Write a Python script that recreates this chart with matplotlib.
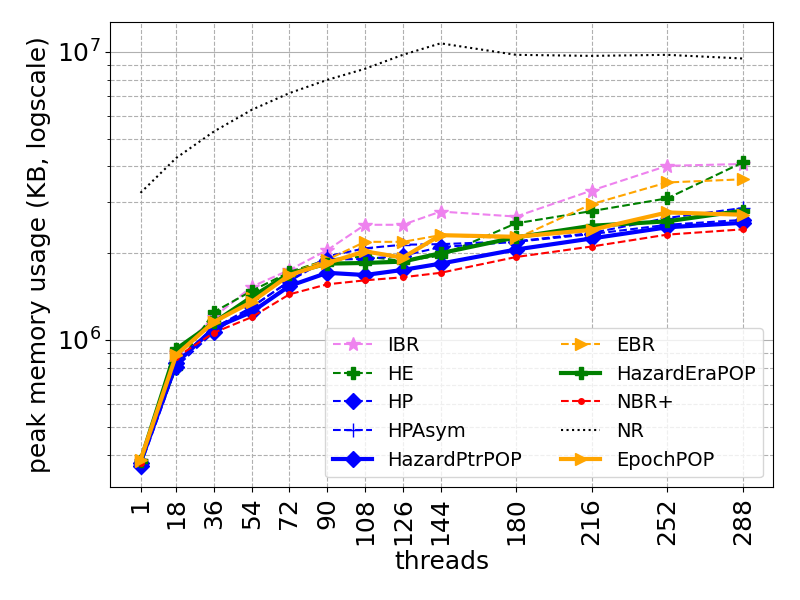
import matplotlib
matplotlib.use("Agg")
import matplotlib.pyplot as plt

threads = [1, 18, 36, 54, 72, 90, 108, 126, 144, 180, 216, 252, 288]

ibr = [3.8e5, 9.0e5, 1.20e6, 1.53e6, 1.75e6, 2.05e6, 2.51e6, 2.51e6, 2.79e6, 2.68e6, 3.30e6, 4.02e6, 4.08e6]
he = [3.8e5, 8.0e5, 1.25e6, 1.48e6, 1.72e6, 1.90e6, 1.95e6, 1.88e6, 1.96e6, 2.54e6, 2.80e6, 3.10e6, 4.13e6]
hp = [3.65e5, 8.06e5, 1.066e6, 1.30e6, 1.60e6, 1.90e6, 1.91e6, 1.96e6, 2.10e6, 2.19e6, 2.33e6, 2.51e6, 2.61e6]
hpasym = [3.75e5, 8.5e5, 1.10e6, 1.30e6, 1.60e6, 1.95e6, 2.08e6, 2.14e6, 2.15e6, 2.20e6, 2.35e6, 2.65e6, 2.87e6]
hazard_ptr_pop = [3.75e5, 8.3e5, 1.10e6, 1.25e6, 1.54e6, 1.71e6, 1.68e6, 1.75e6, 1.84e6, 2.06e6, 2.25e6, 2.46e6, 2.55e6]
ebr = [3.8e5, 8.9e5, 1.15e6, 1.40e6, 1.70e6, 1.90e6, 2.19e6, 2.19e6, 2.31e6, 2.25e6, 2.96e6, 3.52e6, 3.61e6]
hazard_era_pop = [3.8e5, 9.3e5, 1.15e6, 1.41e6, 1.70e6, 1.84e6, 1.85e6, 1.87e6, 2.00e6, 2.27e6, 2.49e6, 2.58e6, 2.81e6]
nbr_plus = [3.75e5, 8.7e5, 1.06e6, 1.20e6, 1.44e6, 1.56e6, 1.61e6, 1.65e6, 1.71e6, 1.94e6, 2.11e6, 2.32e6, 2.42e6]
nr = [3.24e6, 4.28e6, 5.29e6, 6.29e6, 7.19e6, 7.99e6, 8.73e6, 9.76e6, 1.07e7, 9.76e6, 9.68e6, 9.76e6, 9.48e6]
epoch_pop = [3.83e5, 8.87e5, 1.155e6, 1.355e6, 1.68e6, 1.85e6, 2.03e6, 1.93e6, 2.31e6, 2.28e6, 2.41e6, 2.77e6, 2.72e6]

fig, ax = plt.subplots(figsize=(8, 6), dpi=100)

ax.plot(threads, ibr, color='violet', ls='--', marker='*', ms=10, label='IBR')
ax.plot(threads, he, color='green', ls='--', marker='P', ms=9, label='HE')
ax.plot(threads, hp, color='blue', ls='--', marker='D', ms=8, label='HP')
ax.plot(threads, hpasym, color='blue', ls='--', marker='+', ms=10, label='HPAsym')
ax.plot(threads, hazard_ptr_pop, color='blue', ls='-', lw=3, marker='D', ms=8, label='HazardPtrPOP')
ax.plot(threads, ebr, color='orange', ls='--', marker='>', ms=9, label='EBR')
ax.plot(threads, hazard_era_pop, color='green', ls='-', lw=3, marker='P', ms=8, label='HazardEraPOP')
ax.plot(threads, nbr_plus, color='red', ls='--', marker='.', ms=8, label='NBR+')
ax.plot(threads, nr, color='black', ls=':', label='NR')
ax.plot(threads, epoch_pop, color='orange', ls='-', lw=3, marker='>', ms=9, label='EpochPOP')

ax.set_yscale('log')
ax.set_xticks(threads)
ax.set_xticklabels([str(t) for t in threads], rotation=90)
ax.tick_params(axis='both', which='major', labelsize=18)

ax.yaxis.grid(True, which='major', color='#b0b0b0', ls='-')
ax.yaxis.grid(True, which='minor', color='#b0b0b0', ls='--')
ax.xaxis.grid(True, which='major', color='#b0b0b0', ls='--')

ax.set_xlabel('threads', fontsize=18)
ax.set_ylabel('peak memory usage (KB, logscale)', fontsize=18)
ax.legend(ncol=2, loc='lower right', fontsize=14)

fig.subplots_adjust(left=0.138, right=0.966, top=0.963, bottom=0.188)
fig.savefig('out.png')
